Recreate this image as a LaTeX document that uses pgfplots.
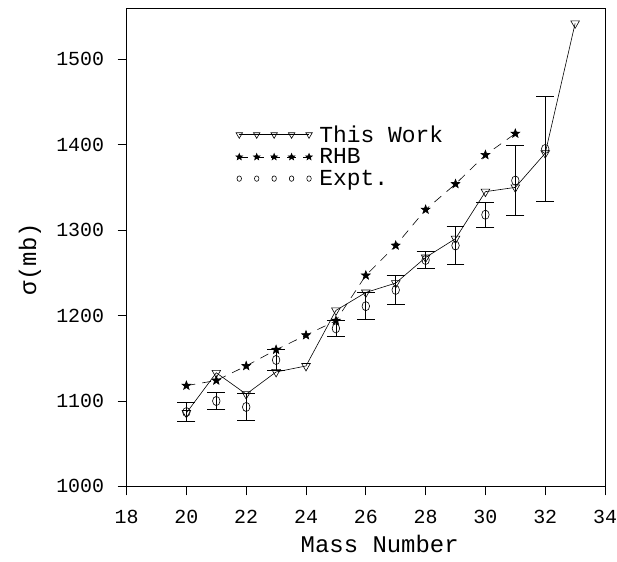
\documentclass[border=0pt]{standalone}
\usepackage{fontspec}
\setmainfont{Liberation Mono}
\usepackage{pgfplots}
\pgfplotsset{compat=1.18}
\pgfdeclareplotmark{fstar}{%
 \pgfpathmoveto{\pgfpointpolar{90}{\pgfplotmarksize}}%
 \pgfpathlineto{\pgfpointpolar{126}{0.42\pgfplotmarksize}}%
 \pgfpathlineto{\pgfpointpolar{162}{\pgfplotmarksize}}%
 \pgfpathlineto{\pgfpointpolar{198}{0.42\pgfplotmarksize}}%
 \pgfpathlineto{\pgfpointpolar{234}{\pgfplotmarksize}}%
 \pgfpathlineto{\pgfpointpolar{270}{0.42\pgfplotmarksize}}%
 \pgfpathlineto{\pgfpointpolar{306}{\pgfplotmarksize}}%
 \pgfpathlineto{\pgfpointpolar{342}{0.42\pgfplotmarksize}}%
 \pgfpathlineto{\pgfpointpolar{18}{\pgfplotmarksize}}%
 \pgfpathlineto{\pgfpointpolar{54}{0.42\pgfplotmarksize}}%
 \pgfpathclose
 \pgfusepathqfillstroke}
\pgfplotsset{fivemarks/.style={legend image code/.code={\draw[##1, mark repeat=1, mark phase=1, every mark/.append style={scale=#1}] plot coordinates {(0pt,0pt) (17.5pt,0pt) (35pt,0pt) (52.5pt,0pt) (70pt,0pt)};}}}
\pgfplotstableread{
A y e
20 1087 11
21 1100 10
22 1093 16
23 1148 12
25 1185 9
26 1211 16
27 1230 17
28 1265 10
29 1282 22
30 1318 15
31 1358 41
32 1395 61
}\expt
\pgfplotstableread{
A y
20 1086
21 1133
22 1108
23 1134
24 1141
25 1206
26 1227
27 1238
28 1268
29 1290
30 1345
31 1350
32 1390
33 1542
}\thiswork
\pgfplotstableread{
A y
20 1118
21 1124
22 1141
23 1160
24 1177
25 1194
26 1247
27 1282
28 1324
29 1354
30 1388
31 1413
}\rhb
\begin{document}
\begin{tikzpicture}
\useasboundingbox (-127pt,-75pt) rectangle (492pt,488pt);
\begin{axis}[
 at={(0pt,0pt)}, anchor=south west,
 scale only axis, width=480pt, height=480pt,
 xmin=18, xmax=34, ymin=1000, ymax=1560,
 xtick={18,20,...,34}, ytick={1000,1100,...,1500},
 tick align=outside, tick pos=left, major tick length=9pt,
 axis line style={line width=0.9pt},
 tick style={line width=0.7pt, black},
 ticklabel style={font=\fontsize{20}{24}\selectfont},
 yticklabel style={xshift=-10pt},
 xticklabel style={yshift=-11pt},
 /pgf/number format/assume math mode=true,
 /pgf/number format/1000 sep={},
 scaled ticks=false,
 xlabel={Mass Number}, ylabel={σ(mb)},
 label style={font=\fontsize{24}{28}\selectfont},
 xlabel style={at={(axis description cs:0.529,-0.138)}, anchor=base},
 ylabel style={at={(axis description cs:-0.202,0.475)}, anchor=center},
 legend style={draw=none, fill=none, at={(0.222,0.763)}, anchor=north west,
   font=\fontsize{23}{23}\selectfont, row sep=1pt, cells={anchor=west},
   /tikz/every odd column/.append style={column sep=5pt}},
]
\addplot[black, line width=0.6pt, mark=triangle, mark size=5pt,
  mark options={rotate=180, fill=white, solid}, fivemarks=0.75]
  table[x=A, y=y]{\thiswork};
\addlegendentry{This Work}
\addplot[black, line width=0.6pt, dash pattern=on 9pt off 7pt, mark=fstar, mark size=4.6pt,
  mark options={solid, fill=black}, fivemarks=0.75]
  table[x=A, y=y]{\rhb};
\addlegendentry{RHB}
\addplot[black, line width=0.6pt, only marks, mark=o, mark size=4.6pt,
  mark options={xscale=0.82}, fivemarks=0.6,
  error bars/.cd, y dir=both, y explicit,
  error bar style={line width=0.8pt, black},
  error mark options={rotate=90, mark size=9pt, line width=0.8pt, black}]
  table[x=A, y=y, y error=e]{\expt};
\addlegendentry{Expt.}
\end{axis}
\end{tikzpicture}
\end{document}
